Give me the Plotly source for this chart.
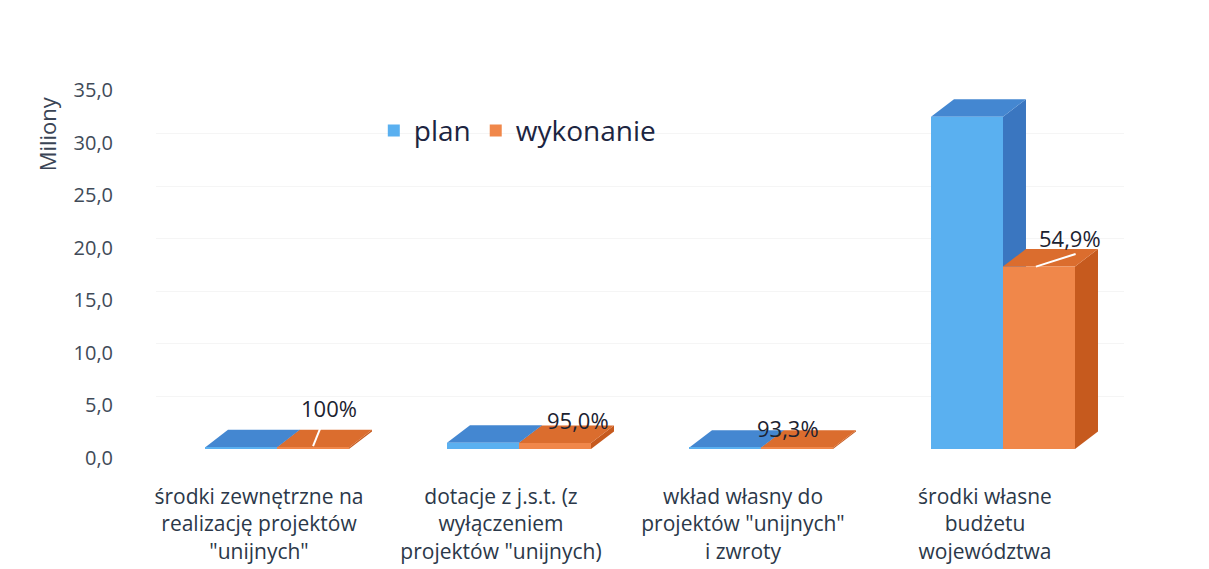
import plotly.graph_objects as go

# ---- data ----
categories = [
    'środki zewnętrzne na<br>realizację projektów<br>"unijnych"',
    'dotacje z j.s.t. (z<br>wyłączeniem<br>projektów "unijnych)',
    'wkład własny do<br>projektów "unijnych"<br>i zwroty',
    'środki własne<br>budżetu<br>województwa',
]
plan = [0.15, 0.6, 0.12, 31.6]
wykonanie = [0.15, 0.57, 0.11, 17.35]
pct_labels = ['100%', '95,0%', '93,3%', '54,9%']
y_ticks = [0, 5, 10, 15, 20, 25, 30, 35]
y_tick_text = ['0,0', '5,0', '10,0', '15,0', '20,0', '25,0', '30,0', '35,0']

# ---- style ----
FONT = 'Open Sans'
blue_front, blue_side, blue_top = '#5AB0F0', '#3A76C0', '#4487D1'
orange_front, orange_side, orange_top = '#F0874A', '#C65A1E', '#DB6D2E'
BAR_W = 0.2975          # width of one bar in category units
DX, DY = 0.095, 1.67    # 3D depth offset (x units, y units)
label_shift = [(-20, 39), (-13, 23), (-45, 20), (-5, 29)]

xs = list(range(len(categories)))

fig = go.Figure()
fig.add_trace(go.Bar(name='plan', x=xs, y=plan, marker=dict(color=blue_front, line=dict(width=0))))
fig.add_trace(go.Bar(name='wykonanie', x=xs, y=wykonanie, marker=dict(color=orange_front, line=dict(width=0))))

def faces(x0, x1, v, side_c, top_c):
    side = f'M {x1},0 L {x1+DX},{DY} L {x1+DX},{v+DY} L {x1},{v} Z'
    top = f'M {x0},{v} L {x1},{v} L {x1+DX},{v+DY} L {x0+DX},{v+DY} Z'
    return [
        dict(type='path', path=side, xref='x', yref='y', fillcolor=side_c, line=dict(width=0), layer='between'),
        dict(type='path', path=top, xref='x', yref='y', fillcolor=top_c, line=dict(width=0), layer='between'),
    ]

shapes = []
for i, x in enumerate(xs):
    shapes += faces(x - BAR_W, x, plan[i], blue_side, blue_top)
    shapes += faces(x, x + BAR_W, wykonanie[i], orange_side, orange_top)

# white leader lines
shapes.append(dict(type='line', xref='x', yref='y', x0=xs[0] + 0.149, y0=0.28, x1=xs[0] + 0.186, y1=2.4,
                   line=dict(color='white', width=2), layer='above'))
shapes.append(dict(type='line', xref='x', yref='y', x0=xs[3] + 0.136, y0=wykonanie[3], x1=xs[3] + 0.30,
                   y1=wykonanie[3] + 1.2, line=dict(color='white', width=2), layer='above'))

annotations = []
for i, x in enumerate(xs):
    annotations.append(dict(x=x + BAR_W, y=wykonanie[i], xref='x', yref='y', text=pct_labels[i],
                            showarrow=False, xshift=label_shift[i][0], yshift=label_shift[i][1],
                            font=dict(family=FONT, size=22, color='#1c2230')))
annotations.append(dict(x=-0.1126, y=0.855, xref='paper', yref='paper', text='Miliony', textangle=-90,
                        xanchor='center', yanchor='middle',
                        showarrow=False, font=dict(family=FONT, size=22, color='#3a4455')))

fig.update_layout(
    width=1209, height=569,
    margin=dict(l=148, r=93, t=73, b=119),
    paper_bgcolor='white', plot_bgcolor='white',
    barmode='group', bargap=0.405, bargroupgap=0,
    shapes=shapes, annotations=annotations,
    legend=dict(orientation='h', x=0.225, y=0.865, xanchor='left', yanchor='middle',
                font=dict(family=FONT, size=28, color='#1c2541'), bgcolor='rgba(0,0,0,0)'),
    xaxis=dict(range=[-0.5, 3.5], tickvals=xs, ticktext=categories, showgrid=False, zeroline=False,
               showline=False, ticks='', tickfont=dict(family=FONT, size=21, color='#2b3849'),
               ticklabelstandoff=33, ticklabelshift=-18),
    yaxis=dict(range=[0, 35], tickvals=y_ticks, ticktext=y_tick_text, showgrid=True, gridcolor='#f5f5f5',
               zeroline=False, showline=False, ticks='', tickfont=dict(family=FONT, size=20, color='#404a58'),
               ticklabelstandoff=42, ticklabelshift=9),
    font=dict(family=FONT),
)

fig.write_html('out.html')
